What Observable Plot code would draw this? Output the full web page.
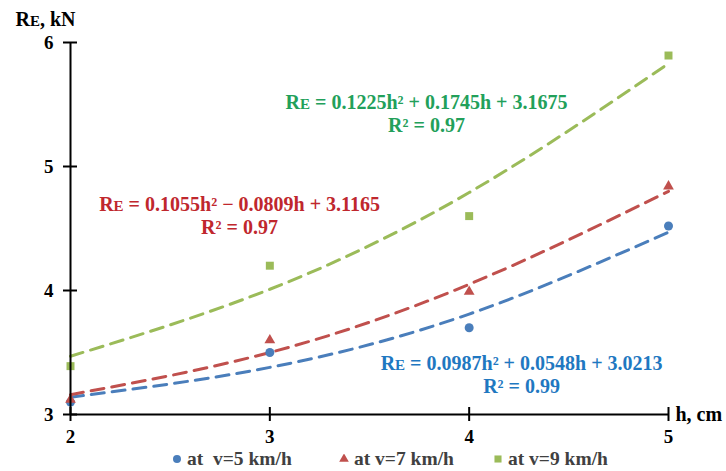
<!DOCTYPE html>
<html><head><meta charset="utf-8">
<script src="https://cdn.jsdelivr.net/npm/d3@7"></script>
<script src="https://cdn.jsdelivr.net/npm/@observablehq/plot@0.6"></script>
<style>
body{margin:0;background:#fff;}
#wrap{position:relative;width:726px;height:471px;font-family:"Liberation Serif","DejaVu Serif",serif;font-weight:bold;}
.leg{position:absolute;top:447px;height:24px;line-height:24px;font-size:19.5px;color:#404040;white-space:pre;display:flex;align-items:center;font-family:"Liberation Serif","DejaVu Serif",serif;font-weight:bold;}
.leg svg{margin-right:5px;}
</style></head><body><div id="wrap"></div>
<script>
// ---- data ----
const depths = [2, 3, 4, 5];
const seriesNames = ["at  v=5 km/h", "at v=7 km/h", "at v=9 km/h"];
const measured5 = [3.10, 3.50, 3.70, 4.52];
const measured7 = [3.12, 3.60, 3.99, 4.84];
const measured9 = [3.39, 4.20, 4.60, 5.895];
const trend5 = [3.14, 3.38, 3.81, 4.47];
const trend7 = [3.16, 3.50, 4.05, 4.80];
const trend9 = [3.47, 4.01, 4.79, 5.83];
const equations = [
  "RE = 0.0987h² + 0.0548h + 3.0213\nR² = 0.99",
  "RE = 0.1055h² − 0.0809h + 3.1165\nR² = 0.97",
  "RE = 0.1225h² + 0.1745h + 3.1675\nR² = 0.97"
];
const xTicks = [2, 3, 4, 5];
const yTicks = [3, 4, 5, 6];
const yTitle = "RE, kN";
const xTitle = "h, cm";

// ---- styles / placement ----
const FONT = '"Liberation Serif","DejaVu Serif",serif';
const colors = ["#4a7ebb", "#c0504d", "#9bbb59"];
const textColors = ["#1f78c1", "#c0272d", "#22a05a"];
const symbols = ["circle", "triangle", "square"];
const symbolR = [4.5, 4, 4.5];
const eqAnchors = [[4.263, 3.323], [2.848, 4.605], [3.786, 5.431]];

const measured = [measured5, measured7, measured9];
const trends = [trend5, trend7, trend9];
const points = measured.flatMap((vals, s) => vals.map((v, i) => ({s, h: depths[i], v})));
const trendRows = trends.flatMap((vals, s) => vals.map((v, i) => ({s, h: depths[i], v})));
const eqRows = equations.map((t, s) => ({s, t, h: eqAnchors[s][0], v: eqAnchors[s][1]}));

const marks = [];
trends.forEach((_, s) => {
  marks.push(Plot.line(trendRows.filter(d => d.s === s), {
    x: "h", y: "v", stroke: colors[s], strokeWidth: 3, strokeDasharray: "13,8", curve: "natural"
  }));
});
measured.forEach((_, s) => {
  marks.push(Plot.dot(points.filter(d => d.s === s), {
    x: "h", y: "v", symbol: () => symbols[s], fill: colors[s], r: symbolR[s]
  }));
});
eqRows.forEach(d => {
  marks.push(Plot.text([d], {
    x: "h", y: "v", text: "t", fill: textColors[d.s], fontSize: 20, fontWeight: "bold", fontFamily: FONT,
    lineHeight: 1.15, textAnchor: "middle", lineAnchor: "middle"
  }));
});

const chart = Plot.plot({
  width: 726, height: 447,
  marginLeft: 70, marginRight: 58, marginTop: 42, marginBottom: 33,
  style: {fontFamily: FONT, fontWeight: "bold", background: "white", overflow: "visible", color: "black"},
  x: {domain: [2, 5]},
  y: {domain: [3, 6]},
  symbol: {type: "identity"},
  marks: [
    ...marks,
    Plot.ruleX([2], {stroke: "black", strokeWidth: 2}),
    Plot.ruleY([3], {stroke: "black", strokeWidth: 2}),
    Plot.axisY({ticks: yTicks, tickSize: 14, dx: 7, fill: "none", stroke: "black", strokeWidth: 2, label: null}),
    Plot.axisY({ticks: yTicks, tickSize: 0, tickPadding: 17, fontSize: 19, fontFamily: FONT, fill: "black", tickFormat: d => String(d), label: null}),
    Plot.axisX({ticks: xTicks, tickSize: 14, dy: -7, fill: "none", stroke: "black", strokeWidth: 2, label: null}),
    Plot.axisX({ticks: xTicks, tickSize: 0, tickPadding: 15, fontSize: 19, fontFamily: FONT, fill: "black", tickFormat: d => String(d), label: null}),
    Plot.text([yTitle], {frameAnchor: "top-left", text: d => d, dx: -55, dy: -17, lineAnchor: "bottom", textAnchor: "start", fontSize: 20, fontFamily: FONT, fill: "black"}),
    Plot.text([xTitle], {frameAnchor: "bottom-right", text: d => d, dx: 7, lineAnchor: "middle", textAnchor: "start", fontSize: 20, fontFamily: FONT, fill: "black"})
  ]
});

// small-cap "E" in R_E
const svgns = "http://www.w3.org/2000/svg";
d3.select(chart).selectAll("text, tspan").each(function () {
  const n = this.firstChild;
  if (n && n.nodeType === 3 && n.nodeValue.startsWith("RE")) {
    const rest = n.nodeValue.slice(2);
    n.nodeValue = "R";
    const t = document.createElementNS(svgns, "tspan");
    t.setAttribute("font-size", "0.75em");
    t.textContent = "E";
    this.insertBefore(t, n.nextSibling);
    this.insertBefore(document.createTextNode(rest), t.nextSibling);
  }
});
d3.select(chart).selectAll("text").style("font-family", FONT).style("font-weight", "bold");

const wrap = document.getElementById("wrap");
wrap.appendChild(chart);
chart.style.position = "absolute"; chart.style.left = "0"; chart.style.top = "0";

// legend below the svg
const legLeft = [172, 339, 493];
seriesNames.forEach((name, s) => {
  const div = document.createElement("div");
  div.className = "leg";
  div.style.left = legLeft[s] + "px";
  const sym = d3.symbol(s === 0 ? d3.symbolCircle : s === 1 ? d3.symbolTriangle : d3.symbolSquare, s === 1 ? 40 : 50)();
  div.innerHTML = `<svg width="10" height="10" viewBox="-5 -5 10 10"><path d="${sym}" fill="${colors[s]}"/></svg>` + name;
  wrap.appendChild(div);
});
</script></body></html>
